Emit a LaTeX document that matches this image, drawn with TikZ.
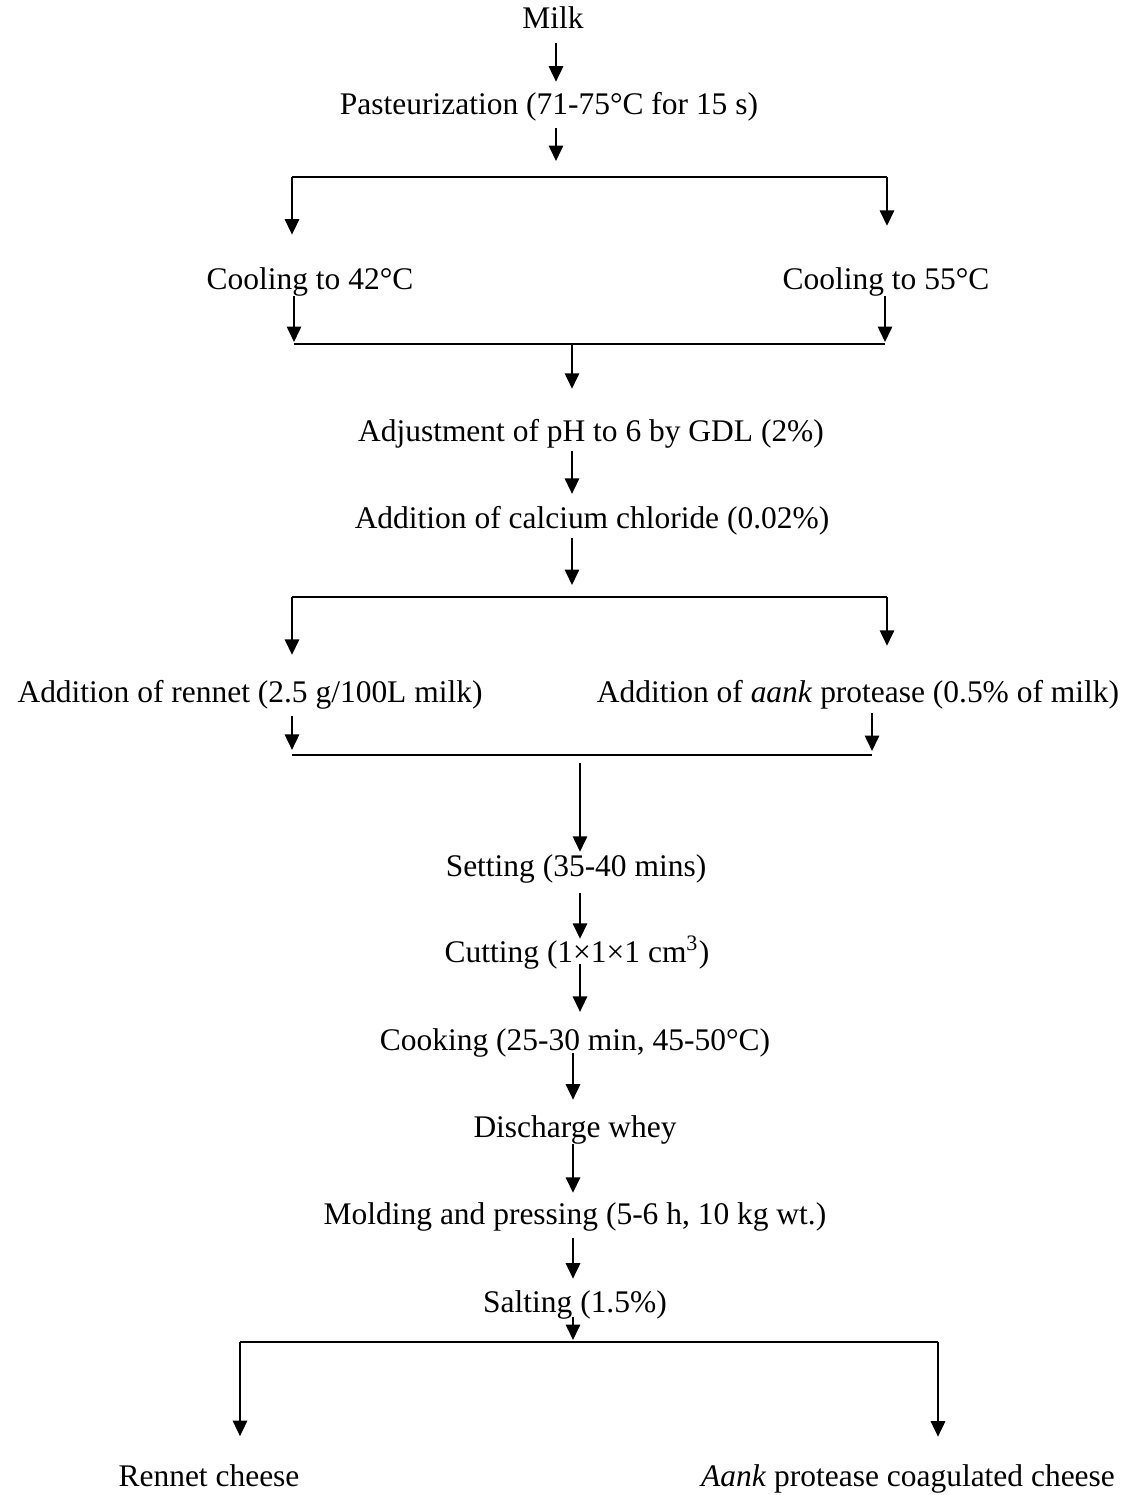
\documentclass[tikz,border=0pt]{standalone}
\usepackage{fontspec}
\setmainfont{Liberation Serif}
\usetikzlibrary{arrows.meta}

\begin{document}
\begin{tikzpicture}[
    x=0.375pt, y=-0.375pt, % 1 unit = 1 pixel of the sheet, y runs downwards
    >={Triangle[width=5.4pt,length=5.8pt]},
    % Stage text: anchored on its baseline, same box height for all lines
    stage/.style={anchor=base,inner sep=0pt,text height=8.5pt,text depth=2.6pt,font=\fontsize{11.8}{14}\selectfont},
    % Connectors: arrows and the bracket rules
    flow/.style={->,line width=0.7pt},
    rule/.style={line width=0.85pt}
]
\useasboundingbox (0,0) rectangle (1136,1495);

% ==============================
% TUNING KNOBS - ROWS OF THE BRACKETS
% ==============================
\def\yBa{177}   % first split
\def\yBb{344}   % first merge
\def\yBc{597}   % second split
\def\yBd{755}   % second merge
\def\yBe{1342}  % final split

% ==============================
% STAGES (top to bottom)
% ==============================
\node[stage] (milk)   at (553,29)   {Milk};
\node[stage] (past)   at (549,115)  {Pasteurization (71-75°C for 15 s)};
\node[stage] (cool42) at (310,289)  {Cooling to 42°C};
\node[stage] (cool55) at (886,289)  {Cooling to 55°C};
\node[stage] (adj)    at (591,441)  {Adjustment of pH to 6 by GDL (2\%)};
\node[stage] (calc)   at (592,528)  {Addition of calcium chloride (0.02\%)};
\node[stage] (rennet) at (250,702)  {Addition of rennet (2.5 g/100L milk)};
\node[stage] (aank)   at (858,702)  {Addition of \textit{aank} protease (0.5\% of milk)};
\node[stage] (set)    at (576,876)  {Setting (35-40 mins)};
\node[stage] (cut)    at (577,962)  {Cutting (1×1×1 cm\textsuperscript{3})};
\node[stage] (cook)   at (575,1050) {Cooking (25-30 min, 45-50°C)};
\node[stage] (whey)   at (575,1137) {Discharge whey};
\node[stage] (mold)   at (575,1224) {Molding and pressing (5-6 h, 10 kg wt.)};
\node[stage] (salt)   at (575,1312) {Salting (1.5\%)};
\node[stage] (rch)    at (209,1486) {Rennet cheese};
\node[stage] (ach)    at (908,1486) {\textit{Aank} protease coagulated cheese};

% ==============================
% BRACKET CORNERS AND SPINES
% ==============================
\coordinate (b1c) at (556,\yBa);
\coordinate (b1l) at (292,\yBa);
\coordinate (b1r) at (887,\yBa);
\coordinate (b2l) at (294,\yBb);
\coordinate (b2r) at (885,\yBb);
\coordinate (b2c) at (572,\yBb);
\coordinate (b3c) at (572,\yBc);
\coordinate (b3l) at (292,\yBc);
\coordinate (b3r) at (887,\yBc);
\coordinate (b4l) at (292,\yBd);
\coordinate (b4r) at (872,\yBd);
\coordinate (b4c) at (580,\yBd);
\coordinate (b5c) at (573,\yBe);
\coordinate (b5l) at (240,\yBe);
\coordinate (b5r) at (938,\yBe);

% ==============================
% MILK -> SPLIT -> COOLING -> MERGE
% ==============================
\draw[flow,shorten <=2.6pt,shorten >=3.8pt] (milk.south -| b1c) -- (past.north -| b1c);
\draw[flow,shorten <=2.2pt,shorten >=6pt] (past.south -| b1c) -- (b1c);
\draw[rule] (b1l) -- (b1r);
\draw[flow,shorten >=11.7pt] (b1l) -- (b1l |- cool42.north);
\draw[flow,shorten >=15pt] (b1r) -- (b1r |- cool55.north);

\draw[flow,shorten >=0.75pt] (cool42.south -| b2l) -- (b2l);
\draw[flow,shorten >=0.75pt] (cool55.south -| b2r) -- (b2r);
\draw[rule] (b2l) -- (b2r);

% ==============================
% pH, CaCl2 -> SPLIT -> COAGULANTS -> MERGE
% ==============================
\draw[flow,shorten >=10.9pt] (b2c) -- (b2c |- adj.north);
\draw[flow,shorten <=1.1pt,shorten >=4.1pt] (adj.south -| b2c) -- (calc.north -| b2c);
\draw[flow,shorten <=1.1pt,shorten >=4.5pt] (calc.south -| b3c) -- (b3c);
\draw[rule] (b3l) -- (b3r);
\draw[flow,shorten >=9pt] (b3l) -- (b3l |- rennet.north);
\draw[flow,shorten >=12.4pt] (b3r) -- (b3r |- aank.north);

\draw[flow,shorten <=2.3pt,shorten >=1.9pt] (rennet.south -| b4l) -- (b4l);
\draw[flow,shorten <=1.5pt,shorten >=1.5pt] (aank.south -| b4r) -- (b4r);
\draw[rule] (b4l) -- (b4r);

% ==============================
% CURD HANDLING (single line)
% ==============================
\draw[flow,shorten <=3pt,shorten >=0.4pt] (b4c) -- (set.north -| b4c);
\draw[flow,shorten <=3.4pt] (set.south -| b4c) -- (cut.north -| b4c);
\draw[flow,shorten <=-2.2pt,shorten >=5.6pt] (cut.south -| b4c) -- (cook.north -| b4c);
\draw[flow,shorten <=-1.5pt,shorten >=5.3pt] (cook.south -| b5c) -- (whey.north -| b5c);
\draw[flow,shorten >=3pt] (whey.south -| b5c) -- (mold.north -| b5c);
\draw[flow,shorten <=2.6pt,shorten >=3.8pt] (mold.south -| b5c) -- (salt.north -| b5c);
\draw[flow,shorten <=-0.75pt,shorten >=0.75pt] (salt.south -| b5c) -- (b5c);

% ==============================
% FINAL SPLIT: the two cheeses
% ==============================
\draw[rule] (b5l) -- (b5r);
\draw[flow,shorten >=10pt] (b5l) -- (b5l |- rch.north);
\draw[flow,shorten >=9.8pt] (b5r) -- (b5r |- ach.north);
\end{tikzpicture}
\end{document}
